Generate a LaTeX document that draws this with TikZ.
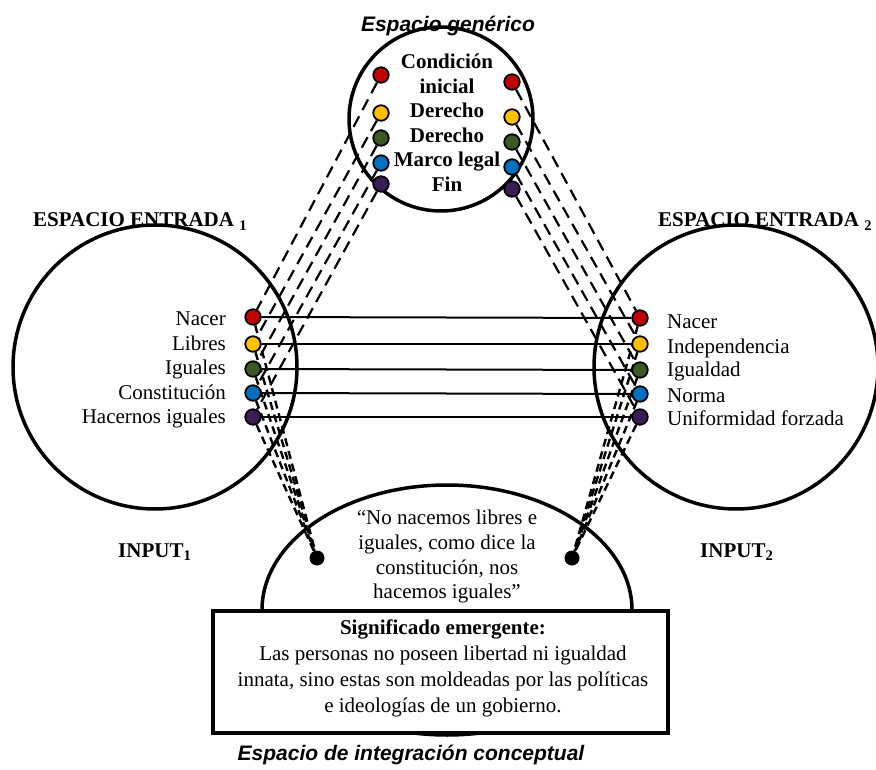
\documentclass[tikz,border=0pt]{standalone}
\usepackage{fontspec}
\setmainfont{Liberation Serif}
\newfontfamily\titlefont{Liberation Sans}
\pgfdeclarelayer{bg}
\pgfdeclarelayer{mid}
\pgfsetlayers{bg,mid,main}
\definecolor{cred}{HTML}{C00000}
\definecolor{cyel}{HTML}{FFC000}
\definecolor{cgrn}{HTML}{3B5A23}
\definecolor{cblu}{HTML}{0070C0}
\definecolor{cpur}{HTML}{3A1D55}
\tikzset{
  dotnode/.style={circle, draw=black, line width=1.8pt, minimum size=15.5pt, inner sep=0pt},
  bdot/.style={circle, fill=black, minimum size=15pt, inner sep=0pt},
  ring/.style={line width=3.5pt},
  dashln/.style={line width=2.2pt, dash pattern=on 12pt off 7pt},
  shortdash/.style={line width=2.4pt, dash pattern=on 8pt off 5pt},
  solidln/.style={line width=2pt},
  lbl/.style={font=\fontsize{21}{24}\selectfont, inner sep=0pt, anchor=base},
  blbl/.style={lbl, font=\fontsize{21}{24}\selectfont\bfseries},
  ttl/.style={inner sep=0pt, anchor=base, font=\fontsize{21}{24}\selectfont\titlefont\bfseries\itshape},
}
\begin{document}
\begin{tikzpicture}[x=1pt,y=-1pt]
\useasboundingbox (0,0) rectangle (876,770);

% shapes
\begin{pgfonlayer}{bg}
  \draw[ring] (441,119) circle[radius=92pt];
  \draw[ring] (155,367) circle[radius=142pt];
  \draw[ring] (736,367) circle[radius=142pt];
  \draw[ring] (447,610) ellipse[x radius=185pt, y radius=125pt];
\end{pgfonlayer}

% titles
\node[ttl] (tgen) at (448,32) {Espacio genérico};
\node[blbl, anchor=base west] (tin1) at (33,227) {ESPACIO ENTRADA \textsubscript{1}};
\node[blbl, anchor=base west] (tin2) at (658,227) {ESPACIO ENTRADA \textsubscript{2}};
\node[blbl, anchor=base west] (inp1) at (118,557) {INPUT\textsubscript{1}};
\node[blbl, anchor=base west] (inp2) at (700,557) {INPUT\textsubscript{2}};
\node[ttl] (tint) at (411,760) {Espacio de integración conceptual};

% generic texts
\node[blbl] (gt1) at (447,69) {Condición};
\node[blbl] (gt1b) at (447,94) {inicial};
\node[blbl] (gt2) at (447,118) {Derecho};
\node[blbl] (gt3) at (447,143) {Derecho};
\node[blbl] (gt4) at (447,167) {Marco legal};
\node[blbl] (gt5) at (447,192) {Fin};

% generic dots
\node[dotnode, fill=cred] (g1) at (381,75) {};
\node[dotnode, fill=cyel] (g2) at (381,113) {};
\node[dotnode, fill=cgrn] (g3) at (381,138) {};
\node[dotnode, fill=cblu] (g4) at (381,163) {};
\node[dotnode, fill=cpur] (g5) at (381,184) {};
\node[dotnode, fill=cred] (h1) at (512,82) {};
\node[dotnode, fill=cyel] (h2) at (512,117) {};
\node[dotnode, fill=cgrn] (h3) at (512,142) {};
\node[dotnode, fill=cblu] (h4) at (512,167) {};
\node[dotnode, fill=cpur] (h5) at (512,189) {};

% input 1
\node[lbl, anchor=base east] (lt1) at (226,326) {Nacer};
\node[lbl, anchor=base east] (lt2) at (226,350) {Libres};
\node[lbl, anchor=base east] (lt3) at (226,374) {Iguales};
\node[lbl, anchor=base east] (lt4) at (226,399) {Constitución};
\node[lbl, anchor=base east] (lt5) at (226,423) {Hacernos iguales};
\node[dotnode, fill=cred] (l1) at (253,317) {};
\node[dotnode, fill=cyel] (l2) at (253,344) {};
\node[dotnode, fill=cgrn] (l3) at (253,369) {};
\node[dotnode, fill=cblu] (l4) at (253,393) {};
\node[dotnode, fill=cpur] (l5) at (253,417) {};

% input 2
\node[lbl, anchor=base west] (rt1) at (667,328) {Nacer};
\node[lbl, anchor=base west] (rt2) at (667,353) {Independencia};
\node[lbl, anchor=base west] (rt3) at (667,376) {Igualdad};
\node[lbl, anchor=base west] (rt4) at (667,402) {Norma};
\node[lbl, anchor=base west] (rt5) at (667,425) {Uniformidad forzada};
\node[dotnode, fill=cred] (r1) at (640,318) {};
\node[dotnode, fill=cyel] (r2) at (640,344) {};
\node[dotnode, fill=cgrn] (r3) at (640,370) {};
\node[dotnode, fill=cblu] (r4) at (640,394) {};
\node[dotnode, fill=cpur] (r5) at (640,417) {};

% blend
\node[bdot] (b1) at (317,558) {};
\node[bdot] (b2) at (572,558) {};
\node[lbl] (q1) at (447,524) {“No nacemos libres e};
\node[lbl] (q2) at (447,549) {iguales, como dice la};
\node[lbl] (q3) at (447,574) {constitución, nos};
\node[lbl] (q4) at (447,598) {hacemos iguales”};

% emergent box
\node[draw, line width=3.5pt, fill=white, minimum width=455pt, minimum height=122pt, inner sep=0pt] (box) at (440.5,672) {};
\node[blbl] (s1) at (443,634) {Significado emergente:};
\node[lbl] (s2) at (443,660) {Las personas no poseen libertad ni igualdad};
\node[lbl] (s3) at (443,686) {innata, sino estas son moldeadas por las políticas};
\node[lbl] (s4) at (443,712) {e ideologías de un gobierno.};

% connectors
\begin{pgfonlayer}{mid}
  \foreach \i in {1,...,5}{
    \draw[dashln] (g\i) -- (l\i);
    \draw[dashln] (h\i) -- (r\i);
    \draw[solidln] (l\i) -- (r\i);
    \draw[shortdash] (l\i) -- (b1);
    \draw[shortdash] (r\i) -- (b2);
  }
\end{pgfonlayer}
\end{tikzpicture}
\end{document}
